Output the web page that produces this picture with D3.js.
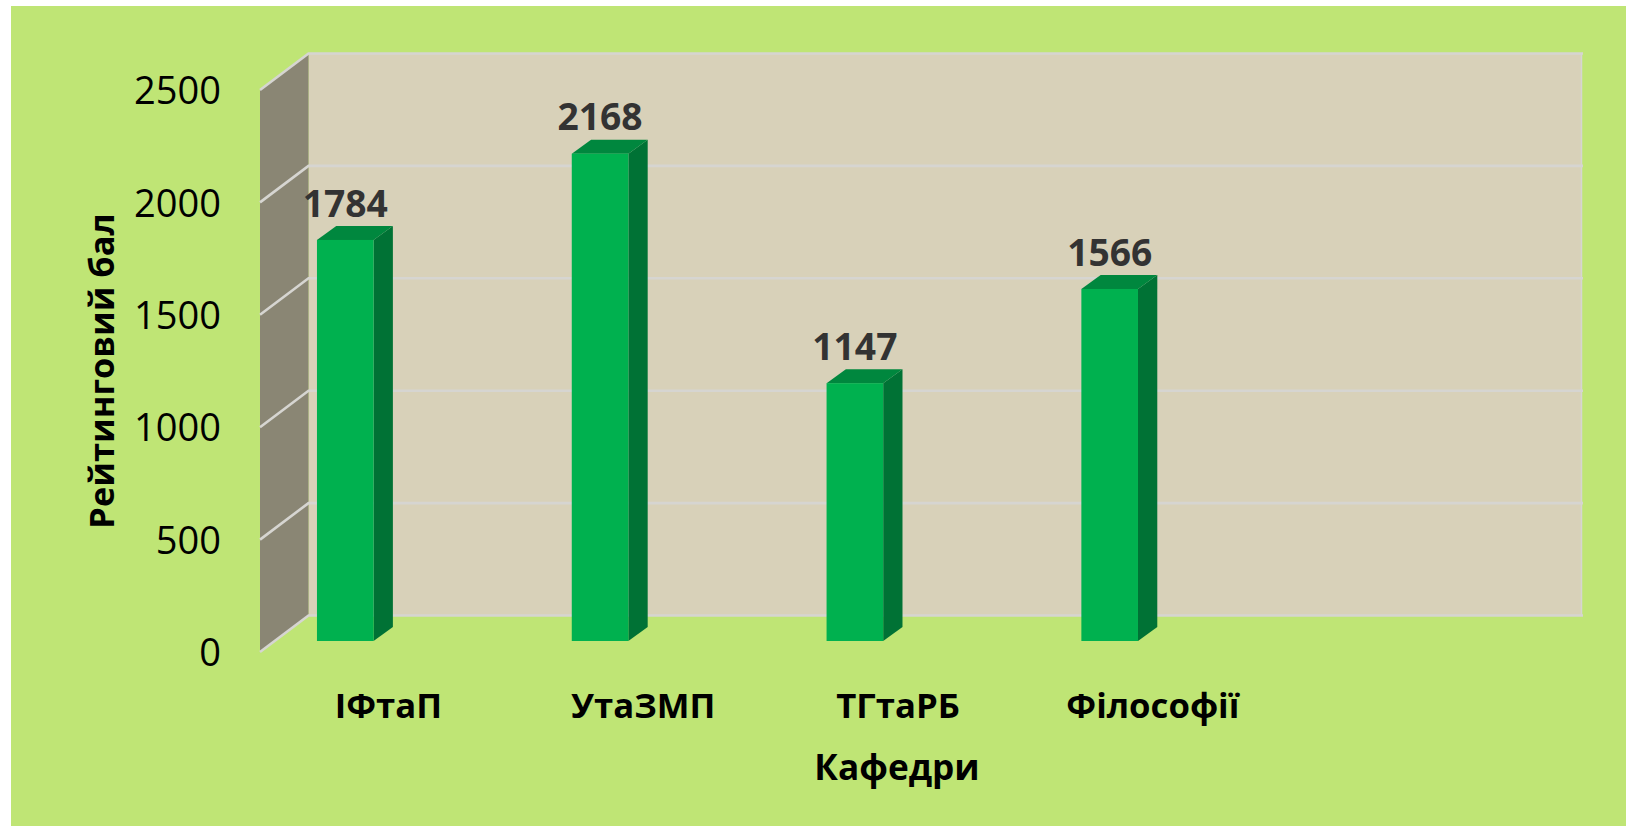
<!DOCTYPE html>
<html><head><meta charset="utf-8">
<style>html,body{margin:0;padding:0;background:#fff}svg{display:block}text{font-family:"Open Sans",sans-serif}</style>
<script src="https://d3js.org/d3.v7.min.js"></script></head>
<body><svg id="c" width="1626" height="826"></svg>
<script>
const categories = ["ІФтаП","УтаЗМП","ТГтаРБ","Філософії",""];
const values = [1784,2168,1147,1566];
const yTicks = [0,500,1000,1500,2000,2500];
const yTitle = "Рейтинговий бал";
const xTitle = "Кафедри";
const seriesSlots = ["s1","s2","s3"];

const C = {bg:"#bfe575",wall:"#d8d1b9",side:"#8a8674",grid:"#d6d5d1",front:"#00b14f",right:"#007235",top:"#00873e",label:"#333333"};
const svg = d3.select("#c");
svg.append("rect").attr("x",11).attr("y",6).attr("width",1615).attr("height",820).attr("fill",C.bg);

const y = d3.scaleLinear().domain([0,2500]).range([652,90]);
const x = d3.scaleBand().domain(categories).range([261,1535]);
const slot = d3.scaleBand().domain(seriesSlots).range([0,x.bandwidth()]).paddingInner(0).paddingOuter(0.75);
const depth = {wx:48.5, wy:-36.5, bx0:13.5, by0:-11, bx:19.3, by:-14};
const X0 = x.range()[0]-1;
const wallL = X0+depth.wx, wallR = x.range()[1]+depth.wx-2;

// walls
svg.append("rect").attr("x",wallL).attr("y",y(2500)+depth.wy).attr("width",wallR-wallL).attr("height",y(0)-y(2500)).attr("fill",C.wall);
svg.append("line").attr("x1",wallR).attr("x2",wallR).attr("y1",y(2500)+depth.wy).attr("y2",y(0)+depth.wy).attr("stroke",C.grid).attr("stroke-width",1.5);
svg.append("path").attr("fill",C.side)
  .attr("d",`M${X0},${y(0)}L${wallL},${y(0)+depth.wy}L${wallL},${y(2500)+depth.wy}L${X0},${y(2500)}Z`);

// gridlines
const grid = svg.append("g").attr("fill","none").attr("stroke",C.grid).attr("stroke-width",2.6);
grid.selectAll("path").data(yTicks).join("path")
  .attr("d",d=>`M${X0},${y(d)}L${wallL},${y(d)+depth.wy}L${wallR+1.5},${y(d)+depth.wy}`);

// bars
const bars = svg.append("g").selectAll("g").data(values).join("g");
const bx = (d,i)=>x(categories[i])+slot("s1")+depth.bx0;
const w = slot.bandwidth();
const by = d=>y(d)+depth.by0, b0 = y(0)+depth.by0;
bars.append("path").attr("fill",C.right)
  .attr("d",(d,i)=>{const r=bx(d,i)+w;return `M${r},${b0}L${r+depth.bx},${b0+depth.by}L${r+depth.bx},${by(d)+depth.by}L${r},${by(d)}Z`;});
bars.append("path").attr("fill",C.top)
  .attr("d",(d,i)=>{const l=bx(d,i),t=by(d);return `M${l},${t}L${l+depth.bx},${t+depth.by}L${l+w+depth.bx},${t+depth.by}L${l+w},${t}Z`;});
bars.append("rect").attr("fill",C.front).attr("x",bx).attr("y",by).attr("width",w).attr("height",d=>b0-by(d));
bars.append("text").attr("x",(d,i)=>bx(d,i)+w/2).attr("y",d=>by(d)-23.3)
  .attr("text-anchor","middle").attr("font-size",37.2).attr("font-weight",700).attr("fill",C.label).text(d=>d);

// axes
const yAxis = svg.append("g").attr("transform","translate(225,1.6)")
  .call(d3.axisLeft(y).tickValues(yTicks).tickSize(0).tickPadding(4).tickFormat(d3.format("d")));
yAxis.select(".domain").remove();
yAxis.selectAll("text").attr("font-size",38).attr("fill","#000").style("font-family",'"Open Sans",sans-serif');

const xAxis = svg.append("g").attr("transform","translate(0,681)")
  .call(d3.axisBottom(x).tickSize(0).tickPadding(12));
xAxis.select(".domain").remove();
xAxis.selectAll("text").attr("font-size",34.7).attr("font-weight",700).attr("fill","#000").style("font-family",'"Open Sans",sans-serif');

svg.append("text").attr("transform","translate(114,371) rotate(-90)").attr("text-anchor","middle")
  .attr("font-size",34.4).attr("font-weight",700).attr("fill","#000").text(yTitle);
svg.append("text").attr("x",897).attr("y",780).attr("text-anchor","middle")
  .attr("font-size",35.2).attr("font-weight",700).attr("fill","#000").text(xTitle);
</script></body></html>
